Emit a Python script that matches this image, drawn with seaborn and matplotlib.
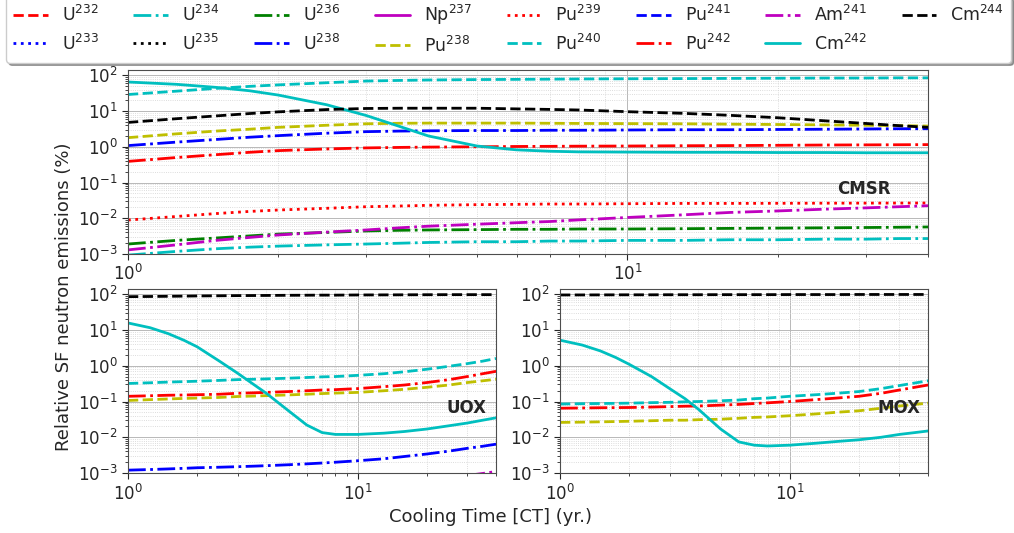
import numpy as np
import matplotlib
matplotlib.use("Agg")
import matplotlib.pyplot as plt
from matplotlib.lines import Line2D
import seaborn as sns

nan = np.nan

# cooling time grid (yr.)
years = [1, 1.25, 1.5, 1.75, 2, 2.5, 3, 3.5, 4, 5, 6, 7, 8, 10, 13, 16, 20, 25, 30, 35, 40]

# --- CMSR (relative SF neutron emissions, %) ---
cmsr_cm242 = [65, 56, 46, 37, 28, 15, 7.5, 3.7, 2.0, 1.05, 0.82, 0.75, 0.72, 0.71, 0.70, 0.70, 0.69, 0.69, 0.68, 0.68, 0.68]
cmsr_pu240 = [29, 36, 43, 49, 54, 62, 69, 72, 74, 76, 77, 78, 79, 80, 81, 82, 83, 84, 84, 85, 85]
cmsr_cm244 = [4.8, 6.1, 7.3, 8.5, 9.5, 11, 11.8, 12, 12, 12, 11.5, 11.1, 10.7, 9.6, 8.6, 7.6, 6.5, 5.3, 4.5, 3.9, 3.5]
cmsr_pu238 = [1.8, 2.3, 2.75, 3.1, 3.5, 4.0, 4.4, 4.55, 4.6, 4.6, 4.6, 4.55, 4.5, 4.45, 4.4, 4.3, 4.2, 4.1, 4.0, 3.9, 3.8]
cmsr_u238 = [1.08, 1.35, 1.6, 1.85, 2.05, 2.4, 2.65, 2.75, 2.8, 2.85, 2.85, 2.9, 2.9, 2.95, 3.0, 3.0, 3.05, 3.1, 3.15, 3.2, 3.2]
cmsr_pu242 = [0.39, 0.5, 0.6, 0.7, 0.78, 0.87, 0.93, 0.96, 0.98, 1.0, 1.02, 1.03, 1.04, 1.05, 1.07, 1.08, 1.1, 1.12, 1.13, 1.14, 1.15]
cmsr_pu239 = [0.0089, 0.0112, 0.0135, 0.0155, 0.017, 0.019, 0.021, 0.022, 0.023, 0.024, 0.0245, 0.025, 0.025, 0.0255, 0.026, 0.026, 0.0262, 0.0264, 0.0265, 0.0266, 0.0267]
cmsr_am241 = [0.0013, 0.0018, 0.0024, 0.0029, 0.0034, 0.0041, 0.0047, 0.0054, 0.006, 0.0068, 0.0075, 0.0081, 0.009, 0.0105, 0.0125, 0.0145, 0.016, 0.018, 0.0195, 0.021, 0.0224]
cmsr_u236 = [0.0019, 0.0024, 0.0028, 0.0032, 0.0036, 0.004, 0.0044, 0.0046, 0.0047, 0.0048, 0.0049, 0.0049, 0.005, 0.005, 0.0051, 0.0052, 0.0053, 0.0054, 0.0055, 0.0056, 0.0057]
cmsr_u234 = [0.00093, 0.00118, 0.0014, 0.00155, 0.00166, 0.0018, 0.0019, 0.002, 0.0021, 0.0022, 0.0022, 0.0023, 0.0023, 0.0024, 0.0024, 0.0025, 0.0025, 0.0026, 0.0026, 0.0027, 0.0027]

# --- UOX ---
uox_cm244 = [86, 87, 88, 89, 90, 91, 92, 92.5, 93, 94, 94.5, 95, 95, 96, 96.5, 97, 97.5, 98, 98, 98, 98]
uox_cm242 = [15.8, 11.6, 7.9, 5.2, 3.4, 1.35, 0.62, 0.31, 0.17, 0.055, 0.022, 0.0135, 0.012, 0.012, 0.013, 0.0145, 0.017, 0.021, 0.025, 0.03, 0.035]
uox_pu240 = [0.32, 0.335, 0.35, 0.36, 0.37, 0.39, 0.41, 0.42, 0.43, 0.45, 0.47, 0.49, 0.5, 0.54, 0.6, 0.68, 0.8, 0.97, 1.15, 1.35, 1.6]
uox_pu242 = [0.14, 0.145, 0.15, 0.152, 0.155, 0.16, 0.17, 0.175, 0.18, 0.19, 0.2, 0.21, 0.215, 0.23, 0.26, 0.29, 0.34, 0.41, 0.5, 0.6, 0.7]
uox_pu238 = [0.107, 0.113, 0.118, 0.122, 0.125, 0.13, 0.138, 0.142, 0.146, 0.153, 0.16, 0.167, 0.172, 0.18, 0.2, 0.22, 0.25, 0.29, 0.34, 0.38, 0.42]
uox_u238 = [0.0012, 0.00125, 0.0013, 0.00135, 0.0014, 0.00145, 0.0015, 0.00155, 0.0016, 0.0017, 0.0018, 0.0019, 0.002, 0.0022, 0.0025, 0.0029, 0.0034, 0.0041, 0.0049, 0.0056, 0.0064]
uox_am241 = [nan] * 18 + [0.00085, 0.00097, 0.0011]

# --- MOX ---
mox_cm244 = [96, 96.2, 96.5, 96.8, 97, 97, 97.5, 97.5, 97.5, 98, 98, 98, 98, 98.5, 98.5, 98.5, 99, 99, 99, 99, 99]
mox_cm242 = [5.2, 3.8, 2.6, 1.7, 1.1, 0.5, 0.23, 0.12, 0.061, 0.017, 0.0074, 0.006, 0.0057, 0.006, 0.0068, 0.0076, 0.0085, 0.01, 0.012, 0.0135, 0.015]
mox_pu240 = [0.085, 0.087, 0.088, 0.089, 0.09, 0.093, 0.095, 0.098, 0.1, 0.105, 0.11, 0.12, 0.125, 0.14, 0.155, 0.17, 0.19, 0.23, 0.28, 0.33, 0.38]
mox_pu242 = [0.065, 0.066, 0.067, 0.0675, 0.068, 0.07, 0.072, 0.074, 0.075, 0.079, 0.083, 0.088, 0.092, 0.1, 0.113, 0.125, 0.14, 0.17, 0.21, 0.25, 0.29]
mox_pu238 = [0.026, 0.0265, 0.027, 0.0275, 0.028, 0.029, 0.03, 0.03, 0.031, 0.032, 0.034, 0.036, 0.037, 0.04, 0.045, 0.05, 0.055, 0.065, 0.075, 0.083, 0.09]

# legend order and line styles
nuclides = ["U232", "U233", "U234", "U235", "U236", "U238", "Np237", "Pu238",
            "Pu239", "Pu240", "Pu241", "Pu242", "Am241", "Cm242", "Cm244"]
labels = ["U$^{232}$", "U$^{233}$", "U$^{234}$", "U$^{235}$", "U$^{236}$", "U$^{238}$",
          "Np$^{237}$", "Pu$^{238}$", "Pu$^{239}$", "Pu$^{240}$", "Pu$^{241}$", "Pu$^{242}$",
          "Am$^{241}$", "Cm$^{242}$", "Cm$^{244}$"]
colors = ["r", "b", "c", "k", "g", "b", "m", "y", "r", "c", "b", "r", "m", "c", "k"]
styles = ["--", ":", "-.", ":", "-.", "-.", "-", "--", ":", "--", "--", "-.", "-.", "-", "--"]
STYLE = {n: (c, s) for n, c, s in zip(nuclides, colors, styles)}

panels = {
    "CMSR": {"U234": cmsr_u234, "U236": cmsr_u236, "U238": cmsr_u238, "Pu238": cmsr_pu238,
             "Pu239": cmsr_pu239, "Pu240": cmsr_pu240, "Pu242": cmsr_pu242,
             "Am241": cmsr_am241, "Cm242": cmsr_cm242, "Cm244": cmsr_cm244},
    "UOX": {"U238": uox_u238, "Pu238": uox_pu238, "Pu240": uox_pu240, "Pu242": uox_pu242,
            "Am241": uox_am241, "Cm242": uox_cm242, "Cm244": uox_cm244},
    "MOX": {"Pu238": mox_pu238, "Pu240": mox_pu240, "Pu242": mox_pu242,
            "Cm242": mox_cm242, "Cm244": mox_cm244},
}

sns.set_style("white")
plt.rcParams["font.family"] = ["DejaVu Sans"]

fig = plt.figure(figsize=(10.14, 5.33), dpi=100)
ax_top = fig.add_axes([0.1262, 0.5235, 0.789, 0.345])
ax_uox = fig.add_axes([0.1262, 0.1126, 0.363, 0.345])
ax_mox = fig.add_axes([0.5523, 0.1126, 0.363, 0.345])

for name, ax in [("CMSR", ax_top), ("UOX", ax_uox), ("MOX", ax_mox)]:
    ax.set_xscale("log")
    ax.set_yscale("log")
    for nuc in nuclides:
        if nuc not in panels[name]:
            continue
        c, s = STYLE[nuc]
        sns.lineplot(x=years, y=panels[name][nuc], color=c, linestyle=s, lw=2,
                     errorbar=None, ax=ax)
    ax.set_xlim(1, 40)
    ax.set_ylim(1e-3, 140)
    ax.grid(True, which="major", color="0.72", lw=0.7)
    ax.grid(True, which="minor", color="0.82", lw=0.6, ls=":")
    ax.tick_params(which="both", direction="out", labelsize=12, left=True, bottom=True)
    ax.tick_params(which="major", length=4)
    ax.tick_params(which="minor", length=2)
    for sp in ax.spines.values():
        sp.set_color("0.3")
    ax.set_xlabel("")
    ax.set_ylabel("")
    ax.text(0.92, 0.355, name, transform=ax.transAxes, fontsize=12,
            fontweight="bold", ha="center", va="center")

handles = [Line2D([], [], color=c, ls=s, lw=2) for c, s in zip(colors, styles)]
fig.legend(handles, labels, ncol=8, loc="upper left", bbox_to_anchor=(0.006, 1.008),
           borderaxespad=0, fontsize=12.5, shadow=True, frameon=True)

fig.text(0.063, 0.443, "Relative SF neutron emissions (%)", rotation=90,
         ha="center", va="center", fontsize=13)
fig.text(0.484, 0.030, "Cooling Time [CT] (yr.)", ha="center", va="center", fontsize=13)

fig.savefig("out.png", dpi=100)
